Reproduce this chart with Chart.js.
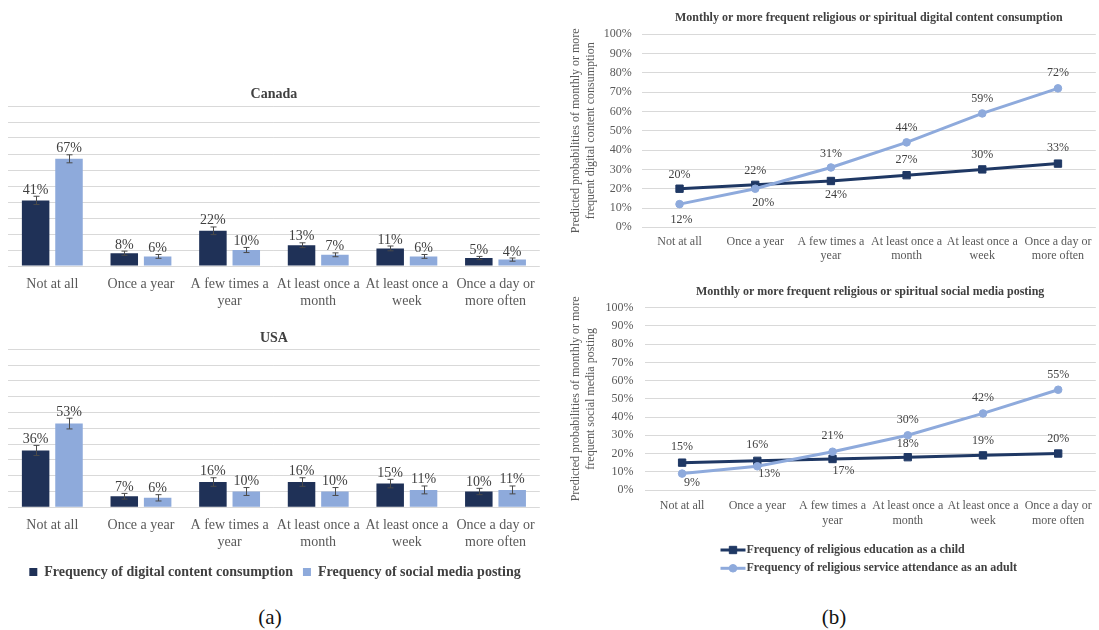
<!DOCTYPE html>
<html><head><meta charset="utf-8">
<script src="https://cdn.jsdelivr.net/npm/chart.js@4.4.1/dist/chart.umd.min.js"></script>
<style>
html,body{margin:0;padding:0;background:#fff;}
body{width:1099px;height:630px;position:relative;overflow:hidden;font-family:"Liberation Serif",serif;}
canvas{position:absolute;display:block;}
.cap{position:absolute;font-family:"Liberation Serif",serif;font-size:21px;color:#111;transform:translate(-50%,-50%);line-height:1;}
</style></head><body>
<canvas id="ca" width="545" height="232" style="left:0;top:80px"></canvas>
<canvas id="cb" width="545" height="269" style="left:0;top:320px"></canvas>
<canvas id="cc" width="542" height="270" style="left:560px;top:0"></canvas>
<canvas id="cd" width="542" height="320" style="left:560px;top:270px"></canvas>
<div class="cap" style="left:270px;top:617px">(a)</div>
<div class="cap" style="left:834px;top:617px">(b)</div>
<script>
// ---------- data ----------
const categories = ["Not at all","Once a year",["A few times a","year"],["At least once a","month"],["At least once a","week"],["Once a day or","more often"]];
const barSeriesNames = ["Frequency of digital content consumption","Frequency of social media posting"];
const canadaDigital = [41,8,22,13,11,5];
const canadaSocial = [67,6,10,7,6,4];
const canadaDigitalErr = [2.6,1.3,2.4,1.5,1.5,1.0];
const canadaSocialErr = [2.5,1.2,1.6,1.2,1.2,1.0];
const usaDigital = [36,7,16,16,15,10];
const usaSocial = [53,6,10,10,11,11];
const usaDigitalErr = [3.2,1.8,2.7,2.7,2.7,2.0];
const usaSocialErr = [3.4,2.0,2.5,2.5,2.5,2.5];
const lineSeriesNames = ["Frequency of religious education as a child","Frequency of religious service attendance as an adult"];
const consumptionEducation = [20,22,24,27,30,33];
const consumptionAttendance = [12,20,31,44,59,72];
const postingEducation = [15,16,17,18,19,20];
const postingAttendance = [9,13,21,30,42,55];
const yMin = 0, yMax = 100, yStep = 10;

// ---------- styles ----------
const DARK = '#1f3157', LIGHT = '#8eaadb';
const DARK_LINE = '#1f3864', LIGHT_LINE = '#8eaadc';
const GRID = '#d9d9d9', TICK = '#595959', LABEL = '#404040';
const SERIF = '"Liberation Serif", "Times New Roman", serif';
Chart.defaults.font.family = SERIF;
Chart.defaults.color = TICK;
Chart.defaults.animation = false;

const errorBars = {
  id:'errorBars',
  afterDatasetsDraw(chart){
    const ctx = chart.ctx, ys = chart.scales.y;
    chart.data.datasets.forEach((ds,i)=>{
      if(!ds.errors) return;
      chart.getDatasetMeta(i).data.forEach((el,j)=>{
        const v = ds.data[j], e = ds.errors[j];
        const x = Math.round(el.x)+0.5;
        const y1 = ys.getPixelForValue(v+e), y2 = ys.getPixelForValue(v-e);
        ctx.save(); ctx.strokeStyle = '#4a4a4a'; ctx.lineWidth = 1;
        ctx.beginPath();
        ctx.moveTo(x,y1); ctx.lineTo(x,y2);
        ctx.moveTo(x-3,y1); ctx.lineTo(x+3,y1);
        ctx.moveTo(x-3,y2); ctx.lineTo(x+3,y2);
        ctx.stroke(); ctx.restore();
      });
    });
  }
};

const valueLabels = {
  id:'valueLabels',
  afterDatasetsDraw(chart, args, o){
    const ctx = chart.ctx, ys = chart.scales.y;
    ctx.save();
    ctx.font = o.font; ctx.fillStyle = o.color; ctx.textAlign = 'center';
    chart.data.datasets.forEach((ds,i)=>{
      chart.getDatasetMeta(i).data.forEach((el,j)=>{
        const v = ds.data[j], txt = v + '%';
        if(ds.errors){
          ctx.textBaseline = 'alphabetic';
          ctx.fillText(txt, el.x, ys.getPixelForValue(v+ds.errors[j]) - 2.5);
        } else {
          const off = ds.labelOffsets[j];
          ctx.textBaseline = 'middle';
          ctx.fillText(txt, el.x + off[0], el.y + off[1]);
        }
      });
    });
    ctx.restore();
  }
};

const lineLegend = {
  id:'lineLegend',
  afterDraw(chart, args, o){
    if(!o || !o.display) return;
    const ctx = chart.ctx;
    chart.data.datasets.forEach((ds,i)=>{
      const y = o.y + i*o.rowGap;
      ctx.save();
      ctx.strokeStyle = ds.borderColor; ctx.lineWidth = ds.borderWidth;
      ctx.beginPath(); ctx.moveTo(o.x, y); ctx.lineTo(o.x+o.lineLength, y); ctx.stroke();
      ctx.fillStyle = ds.pointBackgroundColor; ctx.strokeStyle = ds.pointBorderColor; ctx.lineWidth = ds.pointBorderWidth;
      Chart.helpers.drawPoint(ctx, {pointStyle: ds.pointStyle, radius: ds.pointRadius, borderWidth: ds.pointBorderWidth, rotation: 0}, o.x+o.lineLength/2, y);
      ctx.fillStyle = o.color; ctx.font = o.font; ctx.textBaseline = 'middle'; ctx.textAlign = 'left';
      ctx.fillText(ds.label, o.x+o.lineLength+o.gap, y);
      ctx.restore();
    });
  }
};

function barConfig(title, d1, d2, e1, e2, titlePad, xHeight, showLegend){
  return {
    type:'bar',
    data:{labels: categories, datasets:[
      {label: barSeriesNames[0], data: d1, errors: e1, backgroundColor: DARK, borderWidth: 0, barPercentage: 0.824, categoryPercentage: 0.753},
      {label: barSeriesNames[1], data: d2, errors: e2, backgroundColor: LIGHT, borderWidth: 0, barPercentage: 0.824, categoryPercentage: 0.753}
    ]},
    options:{
      responsive:false, animation:false, devicePixelRatio:1,
      layout:{padding:{left:8,right:3,top:0,bottom:0}},
      plugins:{
        legend:{display: showLegend, position:'bottom', labels:{boxWidth:8, boxHeight:8, padding:10, color:LABEL, font:{size:14, weight:'bold', family:SERIF}}},
        tooltip:{enabled:false},
        title:{display:true, text:title, color:LABEL, font:{size:14, weight:'bold', family:SERIF}, padding:titlePad, fullSize:false},
        valueLabels:{font:'14px ' + SERIF, color:LABEL}
      },
      scales:{
        x:{grid:{display:false, drawTicks:false}, border:{display:false}, ticks:{color:TICK, font:{size:14, family:SERIF, lineHeight:1.2}, padding:10, maxRotation:0, autoSkip:false}, afterFit:s=>{s.height = xHeight;}},
        y:{min:yMin, max:yMax, ticks:{display:false, stepSize:yStep}, grid:{color:GRID, drawTicks:false}, border:{display:false}, afterFit:s=>{s.width = 0;}}
      }
    },
    plugins:[errorBars, valueLabels]
  };
}

new Chart(document.getElementById('ca'), barConfig('Canada', canadaDigital, canadaSocial, canadaDigitalErr, canadaSocialErr, {top:5.6, bottom:3.6}, 46, false));
new Chart(document.getElementById('cb'), barConfig('USA', usaDigital, usaSocial, usaDigitalErr, usaSocialErr, {top:9.9, bottom:2.6}, 47.7, true));

function lineConfig(title, d1, d2, off1, off2, yTitle, titlePad, yWidth, yPad, xHeight, xPad, legendOpts){
  return {
    type:'line',
    data:{labels: categories, datasets:[
      {label: lineSeriesNames[0], data: d1, labelOffsets: off1, borderColor: DARK_LINE, backgroundColor: DARK_LINE, pointBackgroundColor: DARK_LINE, pointBorderColor: DARK_LINE, borderWidth: 3, pointStyle:'rect', pointRadius:5.2, pointBorderWidth:1, tension:0, order:1},
      {label: lineSeriesNames[1], data: d2, labelOffsets: off2, borderColor: LIGHT_LINE, backgroundColor: LIGHT_LINE, pointBackgroundColor: LIGHT_LINE, pointBorderColor: LIGHT_LINE, borderWidth: 3, pointStyle:'circle', pointRadius:3.8, pointBorderWidth:1, tension:0, order:0}
    ]},
    options:{
      responsive:false, animation:false, devicePixelRatio:1,
      layout:{padding:{left:8,right:0,top:0,bottom:0}},
      plugins:{
        legend:{display:false}, tooltip:{enabled:false},
        title:{display:true, text:title, color:LABEL, font:{size:12, weight:'bold', family:SERIF}, padding:titlePad, fullSize:false},
        valueLabels:{font:'12px ' + SERIF, color:LABEL},
        lineLegend: legendOpts
      },
      scales:{
        x:{offset:true, grid:{display:false, drawTicks:false}, border:{display:false}, ticks:{color:TICK, font:{size:12, family:SERIF, lineHeight:1.2}, padding:xPad, maxRotation:0, autoSkip:false}, afterFit:s=>{s.height = xHeight;}},
        y:{min:yMin, max:yMax, ticks:{stepSize:yStep, color:TICK, font:{size:12, family:SERIF}, padding:yPad, callback:v=>v+'%'}, grid:{color:GRID, drawTicks:false}, border:{display:false},
           title:{display:true, text:yTitle, color:TICK, font:{size:12, family:SERIF, lineHeight:1.25}, padding:{top:0,bottom:0}},
           afterFit:s=>{s.width = yWidth;}}
      }
    },
    plugins:[valueLabels, lineLegend]
  };
}

new Chart(document.getElementById('cc'), lineConfig(
  'Monthly or more frequent religious or spiritual digital content consumption',
  consumptionEducation, consumptionAttendance,
  [[0,-14],[0,-14],[5,14],[0,-15],[0,-15],[0,-16]],
  [[2,16],[8,14],[0,-14],[0,-15],[0,-15],[0,-15]],
  ['Predicted probabilities of monthly or more','frequent digital content consumption'],
  {top:10.8, bottom:9.1}, 73.7, 10, 42.7, 7, {display:false}));

new Chart(document.getElementById('cd'), lineConfig(
  'Monthly or more frequent religious or spiritual social media posting',
  postingEducation, postingAttendance,
  [[0,-16],[0,-16],[11,12],[0,-13],[0,-15],[0,-15]],
  [[10,9],[12,8],[0,-16],[0,-15],[0,-16],[0,-15]],
  ['Predicted probabilities of monthly or more','frequent social media posting'],
  {top:14.5, bottom:8.8}, 76.5, 11, 100, 8.8,
  {display:true, x:160.5, y:280, rowGap:18.3, lineLength:25, gap:1, font:'bold 12px ' + SERIF, color:LABEL}));
</script>
</body></html>
